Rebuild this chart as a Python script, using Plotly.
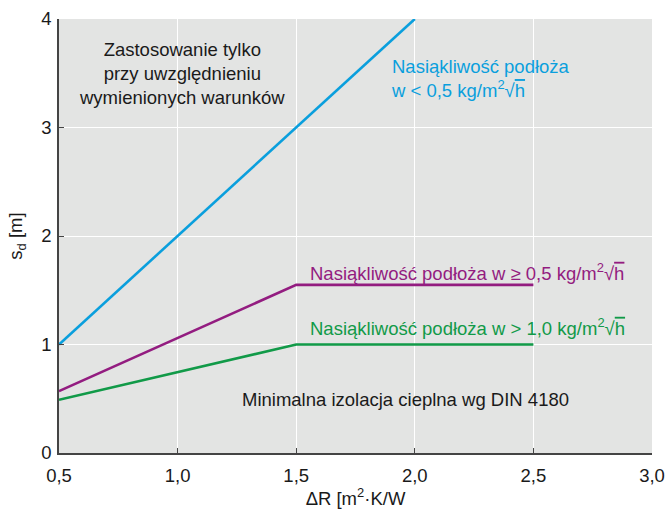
import plotly.graph_objects as go

# Series: thermal resistance increase dR vs. equivalent air-layer thickness s_d
dr_low = [0.5, 2.0]
sd_low = [1.0, 4.0]

dr_mid = [0.5, 1.5, 2.5]
sd_mid = [0.57, 1.55, 1.55]

dr_high = [0.5, 1.5, 2.5]
sd_high = [0.49, 1.0, 1.0]

x_ticks = [0.5, 1.0, 1.5, 2.0, 2.5, 3.0]
x_tick_text = ["0,5", "1,0", "1,5", "2,0", "2,5", "3,0"]
y_ticks = [0, 1, 2, 3, 4]

BLUE = "#0A9FDD"
PURPLE = "#931C80"
GREEN = "#119A48"
DARK = "#1a1a1a"
FONT = "Liberation Sans, Arial, sans-serif"
FS = 18.5
SQRT_H = "\u221a<span style='text-decoration:overline'>h</span>"

fig = go.Figure()
for xs, ys, col in [(dr_low, sd_low, BLUE), (dr_mid, sd_mid, PURPLE), (dr_high, sd_high, GREEN)]:
    fig.add_trace(go.Scatter(x=xs, y=ys, mode="lines", line=dict(color=col, width=2.6),
                             showlegend=False, hoverinfo="skip", cliponaxis=False))

labels = [
    (1.02, 3.50, "Zastosowanie tylko<br>przy uwzględnieniu<br>wymienionych warunków",
     DARK, "center"),
    (1.89, 3.45, "Nasiąkliwość podłoża<br>w < 0,5 kg/m<sup>2</sup>" + SQRT_H, BLUE, "left"),
    (1.55, 1.67, "Nasiąkliwość podłoża w ≥ 0,5 kg/m<sup>2</sup>" + SQRT_H, PURPLE, "left"),
    (1.55, 1.16, "Nasiąkliwość podłoża w > 1,0 kg/m<sup>2</sup>" + SQRT_H, GREEN, "left"),
    (1.96, 0.49, "Minimalna izolacja cieplna wg DIN 4180", DARK, "center"),
]
for x, y, text, col, anchor in labels:
    fig.add_annotation(x=x, y=y, text=text, showarrow=False,
                       xanchor=anchor, yanchor="middle", align=anchor,
                       font=dict(family=FONT, size=FS, color=col))

fig.update_layout(
    width=666, height=509,
    margin=dict(l=59, r=14, t=19, b=56, autoexpand=False),
    paper_bgcolor="white",
    plot_bgcolor="#E3E4E3",
    font=dict(family=FONT, size=FS, color=DARK),
)
fig.update_xaxes(range=[0.5, 3.0], tickvals=x_ticks, ticktext=x_tick_text,
                 automargin=False,
                 showgrid=True, gridcolor="white", gridwidth=1,
                 showline=True, linecolor="#444", linewidth=1.5,
                 ticks="inside", ticklen=5, tickcolor="#444",
                 ticklabelstandoff=5, zeroline=False,
                 tickfont=dict(family=FONT, size=FS, color=DARK),
                 title=dict(text="ΔR [m<sup>2</sup>·K/W", standoff=10,
                            font=dict(family=FONT, size=FS, color=DARK)))
fig.update_yaxes(range=[0, 4], tickvals=y_ticks,
                 automargin=False,
                 showgrid=True, gridcolor="white", gridwidth=1,
                 showline=True, linecolor="#444", linewidth=1.5,
                 ticks="inside", ticklen=5, tickcolor="#444",
                 ticklabelstandoff=2, zeroline=False,
                 tickfont=dict(family=FONT, size=FS, color=DARK),
                 title=dict(text="s<sub>d</sub> [m]", standoff=14,
                            font=dict(family=FONT, size=FS, color=DARK)))

fig.write_html("out.html")
